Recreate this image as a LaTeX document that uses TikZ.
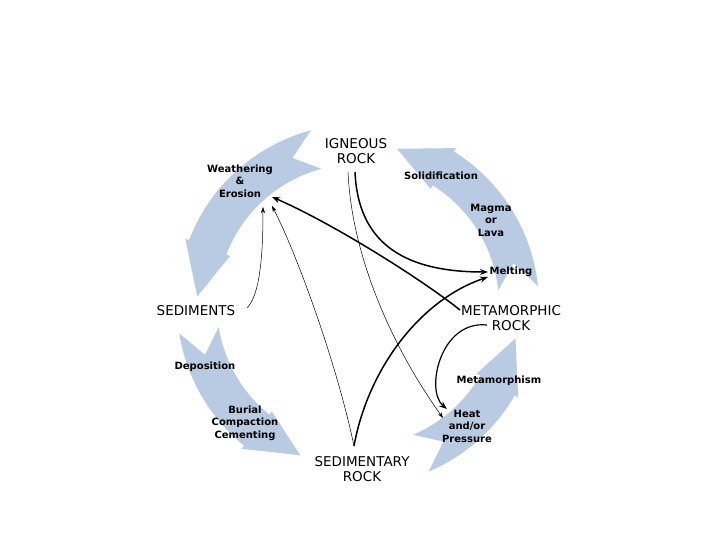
\documentclass[tikz,border=0pt]{standalone}
\usepackage{fontspec}
\setmainfont{DejaVu Sans}
\usetikzlibrary{arrows.meta}

\definecolor{cycleblue}{RGB}{185,203,227}

\tikzset{
  rock/.style={align=center, font=\fontsize{13.5}{14.5}\selectfont, inner sep=0pt},
  process/.style={align=center, font=\bfseries\fontsize{10}{12.5}\selectfont, inner sep=0pt},
  thin link/.style={-{Stealth[length=6pt,width=4pt]}, line width=0.5pt},
  thick link/.style={-{Stealth[length=8pt,width=6pt]}, line width=1.5pt},
}

\begin{document}
\begin{tikzpicture}[x=1pt,y=1pt]
\useasboundingbox (0,0) rectangle (720,540);

% Cycle arrows (tail angle / tip angle round the centre)
\coordinate (C) at (358,235);
\foreach \a/\b in {105/177, 6/76, 189/249, 293/348}{
  \pgfmathsetmacro{\h}{\b-18}
  \fill[cycleblue, shift={(C)}] (\a:181) -- (\a+9:161) -- (\a:141)
    arc[start angle=\a, end angle=\h, radius=141] -- (\h:137) -- (\b:161)
    -- (\h:185) -- (\h:181) arc[start angle=\h, end angle=\a, radius=181] -- cycle;
}

% Rocks
\node[rock] (ig) at (356,389) {IGNEOUS\\ROCK};
\node[rock] (se) at (196,229) {SEDIMENTS};
\node[rock] (mr) at (511,222) {METAMORPHIC\\ROCK};
\node[rock] (sr) at (362,71) {SEDIMENTARY\\ROCK};

% Processes
\node[process] (we) at (240,359) {Weathering\\\&\\Erosion};
\node[process] (so) at (441,364) {Solidification};
\node[process] (ma) at (491,320) {Magma\\or\\Lava};
\node[process] (me) at (511,268) {Melting};
\node[process] (de) at (205,173) {Deposition};
\node[process] (bu) at (245,117) {Burial\\Compaction\\Cementing};
\node[process] (mp) at (499,159) {Metamorphism};
\node[process] (he) at (467,114) {Heat\\and/or\\Pressure};

% Shortcuts through the cycle
\draw[thin link] ([xshift=51pt,yshift=3pt]se.center) .. controls +(13,13) and +(0,-48) .. ([xshift=23pt,yshift=-26pt]we.center);
\draw[thin link] ([xshift=-8pt,yshift=23pt]sr.center) .. controls +(-18,86) and +(23,-44) .. ([xshift=32pt,yshift=-25pt]we.center);
\draw[thin link] ([xshift=-8pt,yshift=-21pt]ig.center) .. controls +(4,-88) and +(-48,67) .. ([xshift=-24pt,yshift=8pt]he.center);
\draw[thick link] ([xshift=-51pt,yshift=8pt]mr.center) .. controls +(-40,32) and +(58,-25) .. ([xshift=32pt,yshift=-16pt]we.center);
\draw[thick link] ([xshift=-1pt,yshift=-21pt]ig.center) .. controls +(3,-68) and +(-88,0) .. ([xshift=-23pt]me.center);
\draw[thick link] ([xshift=-8pt,yshift=23pt]sr.center) .. controls +(14,77) and +(-68,-23) .. ([xshift=-23pt,yshift=-5pt]me.center);
\draw[thick link, line width=1.2pt] ([xshift=-24pt,yshift=-7pt]mr.center) .. controls +(-47,5) and +(-22,18) .. ([xshift=-20pt,yshift=17pt]he.center);

\end{tikzpicture}
\end{document}
